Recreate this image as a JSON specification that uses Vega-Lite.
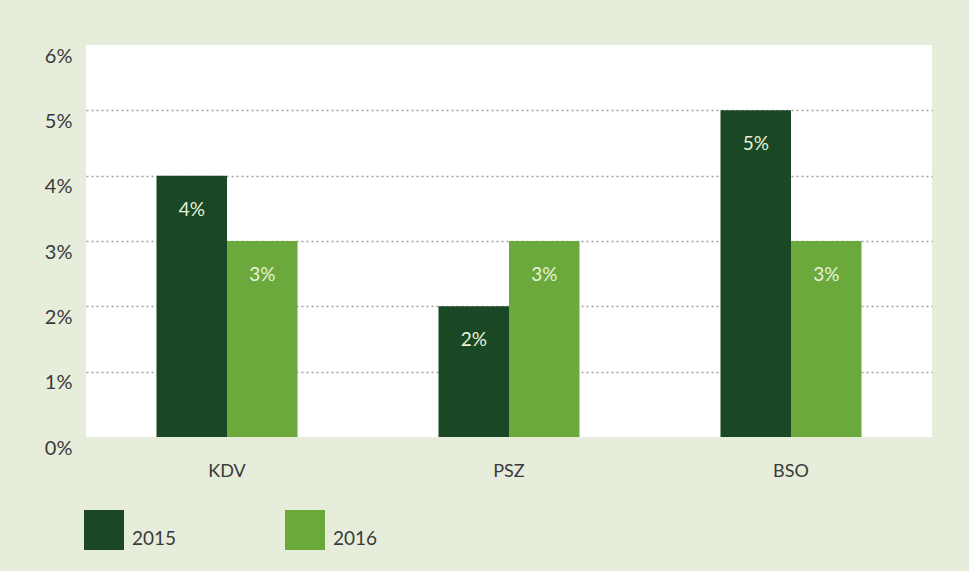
{
  "$schema": "https://vega.github.io/schema/vega-lite/v6.json",
  "width": 846,
  "height": 392,
  "autosize": {"type": "none"},
  "padding": {"left": 86, "top": 45, "right": 37, "bottom": 134},
  "background": "#e6eddb",
  "config": {"view": {"fill": "white", "stroke": null}, "font": "Lato"},
  "data": {
    "values": [
      {"cat": "KDV", "year": "2015", "value": 0.04},
      {"cat": "KDV", "year": "2016", "value": 0.03},
      {"cat": "PSZ", "year": "2015", "value": 0.02},
      {"cat": "PSZ", "year": "2016", "value": 0.03},
      {"cat": "BSO", "year": "2015", "value": 0.05},
      {"cat": "BSO", "year": "2016", "value": 0.03}
    ]
  },
  "encoding": {
    "x": {
      "field": "cat", "type": "nominal", "sort": ["KDV", "PSZ", "BSO"],
      "scale": {"paddingInner": 0, "paddingOuter": 0},
      "axis": {"title": null, "labelAngle": 0, "domain": false, "ticks": false, "labelFontSize": 18, "labelColor": "#3a3a3a", "labelPadding": 25, "labelBaseline": "top"}
    },
    "xOffset": {"field": "year", "type": "nominal", "scale": {"paddingInner": 0, "paddingOuter": 1}},
    "y": {
      "field": "value", "type": "quantitative",
      "scale": {"domain": [0, 0.06], "nice": false},
      "axis": {
        "title": null, "values": [0, 0.01, 0.02, 0.03, 0.04, 0.05, 0.06], "format": ".0%",
        "domain": false, "ticks": false, "labelFontSize": 20, "labelColor": "#3a3a3a",
        "labelPadding": 14, "labelOffset": 11,
        "grid": true, "gridDash": [2, 3], "gridColor": "#a0a0a0", "gridWidth": 1.5,
        "gridOpacity": {"condition": {"test": "datum.value <= 0 || datum.value >= 0.06", "value": 0}, "value": 1}
      }
    }
  },
  "layer": [
    {
      "mark": {"type": "bar"},
      "encoding": {
        "color": {
          "field": "year", "type": "nominal",
          "scale": {"domain": ["2015", "2016"], "range": ["#1a4724", "#6ca93d"]},
          "legend": {
            "orient": "none", "legendX": -2, "legendY": 465, "direction": "horizontal",
            "title": null, "symbolType": "square", "symbolSize": 1600, "symbolStrokeWidth": 0,
            "symbolOpacity": 1,
            "labelFontSize": 19, "labelColor": "#3a3a3a", "labelOffset": 8, "columnPadding": 108,
            "labelBaseline": "top"
          }
        }
      }
    },
    {
      "mark": {"type": "text", "baseline": "middle", "dy": 34, "fontSize": 19, "color": "#e6f2da"},
      "encoding": {"text": {"field": "value", "type": "quantitative", "format": ".0%"}}
    }
  ]
}
